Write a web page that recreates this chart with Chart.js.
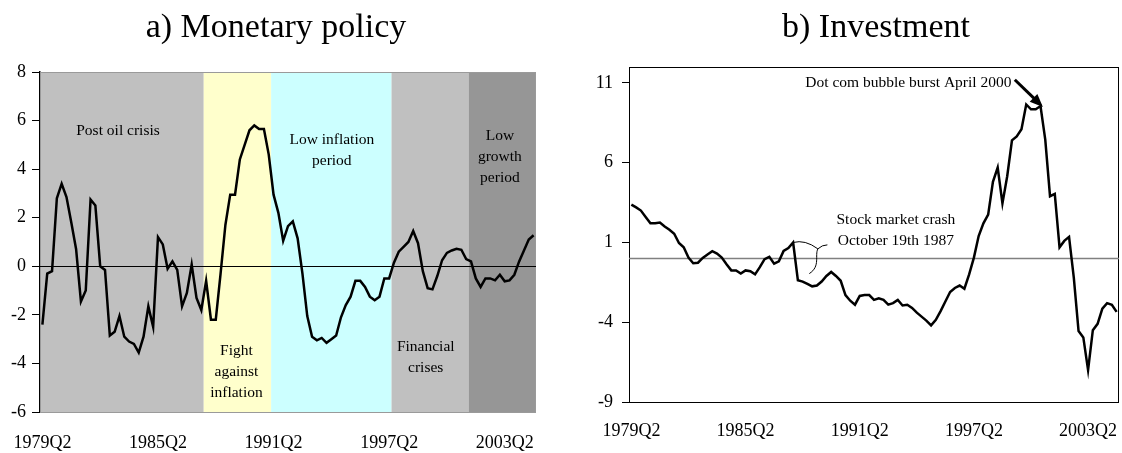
<!DOCTYPE html>
<html>
<head>
<meta charset="utf-8">
<script src="https://cdn.jsdelivr.net/npm/chart.js@4.4.1/dist/chart.umd.min.js"></script>
<style>
  body { margin: 0; background: #fff; width: 1122px; height: 453px; position: relative; overflow: hidden; }
  .panel { position: absolute; top: 0; width: 561px; height: 453px; }
  .title { position: absolute; top: 6px; width: 400px; text-align: center; z-index: 2;
           font: 34px "Liberation Serif", serif; line-height: 40px; color: #000; }
</style>
</head>
<body>
<div class="title" style="left:76px">a) Monetary policy</div>
<div class="title" style="left:676px">b) Investment</div>
<div class="panel" style="left:0"><canvas id="grafikA"></canvas></div>
<div class="panel" style="left:561px"><canvas id="grafikB"></canvas></div>
<script>
// kuartal 1979Q2 .. 2004Q4
const quarters = [];
for (let y = 1979, q = 2; quarters.length < 103; q++) {
    if (q > 4) { q = 1; y++; }
    quarters.push(y + "Q" + q);
}
const tickLabels = ["1979Q2", "1985Q2", "1991Q2", "1997Q2", "2003Q2"];

const monetary = [
    -2.4, -0.3, -0.2, 2.8, 3.4, 2.85, 1.8, 0.7, -1.45, -1.0,
    2.75, 2.5, 0.0, -0.15, -2.85, -2.7, -2.05, -2.9, -3.1, -3.2,
    -3.55, -2.9, -1.65, -2.5, 1.2, 0.9, -0.1, 0.2, -0.15, -1.65,
    -1.1, 0.07, -1.3, -1.8, -0.6, -2.2, -2.2, -0.3, 1.7, 2.95,
    2.95, 4.4, 5.0, 5.6, 5.8, 5.65, 5.65, 4.6, 2.95, 2.2,
    1.05, 1.65, 1.85, 1.15, -0.3, -2.05, -2.9, -3.05, -2.95, -3.15,
    -3.0, -2.85, -2.1, -1.6, -1.25, -0.6, -0.6, -0.85, -1.25, -1.4,
    -1.25, -0.5, -0.5, 0.15, 0.6, 0.8, 1.0, 1.45, 0.95, -0.2,
    -0.9, -0.95, -0.4, 0.25, 0.55, 0.65, 0.72, 0.68, 0.3, 0.2,
    -0.5, -0.85, -0.5, -0.5, -0.58, -0.35, -0.62, -0.58, -0.35, 0.2,
    0.65, 1.1, 1.28
];

const investment = [
    3.37, 3.2, 3.0, 2.6, 2.2, 2.2, 2.25, 2.0, 1.8, 1.55,
    0.97, 0.7, 0.05, -0.3, -0.27, 0.03, 0.25, 0.45, 0.3, 0.05,
    -0.37, -0.75, -0.75, -0.95, -0.75, -0.8, -1.0, -0.55, -0.05, 0.1,
    -0.33, -0.18, 0.47, 0.65, 1.0, -1.37, -1.45, -1.6, -1.75, -1.7,
    -1.45, -1.1, -0.85, -1.1, -1.4, -2.3, -2.65, -2.9, -2.35, -2.3,
    -2.3, -2.6, -2.5, -2.6, -2.9, -2.8, -2.6, -2.95, -2.9, -3.1,
    -3.4, -3.65, -3.9, -4.2, -3.85, -3.3, -2.7, -2.1, -1.85, -1.7,
    -1.9, -1.0, 0.05, 1.4, 2.2, 2.75, 4.8, 5.7, 3.45, 5.15,
    7.4, 7.65, 8.1, 9.65, 9.35, 9.35, 9.55, 7.45, 3.9, 4.05,
    0.7, 1.1, 1.35, -1.2, -4.55, -4.95, -7.0, -4.5, -4.1, -3.15,
    -2.8, -2.9, -3.35
];
const investTicks = [-9, -4, 1, 6, 11];

// periode kebijakan moneter
const periodStarts = ["1979Q2", "1987Q4", "1991Q2", "1997Q3", "2001Q3"];
const periodNames = [["Post oil crisis"], ["Fight", "against", "inflation"], ["Low inflation", "period"], ["Financial", "crises"], ["Low", "growth", "period"]];
const periodColors = ["#c0c0c0", "#ffffcc", "#ccffff", "#c0c0c0", "#969696"];
// posisi label periode (kategori, nilai)
const periodLabelPos = [[15.7, 5.57], [40.3, -3.49], [60.1, 5.2], [79.6, -3.32], [95.0, 5.37]];

Chart.defaults.font.family = '"Liberation Serif", serif';
Chart.defaults.font.size = 18;
Chart.defaults.color = "#000";
Chart.defaults.animation = false;

const FONT_NOTE = '15.5px "Liberation Serif", serif';

// latar periode
const shadePlugin = {
    id: "shade",
    beforeDraw(chart, args, o) {
        if (!o.starts) return;
        const { ctx, chartArea: a, scales: { x } } = chart;
        const half = (x.getPixelForValue(1) - x.getPixelForValue(0)) / 2;
        ctx.save();
        o.starts.forEach((s, k) => {
            const i0 = quarters.indexOf(s);
            const i1 = k + 1 < o.starts.length ? quarters.indexOf(o.starts[k + 1]) : quarters.length;
            const x0 = x.getPixelForValue(i0) - half, x1 = x.getPixelForValue(i1 - 1) + half;
            ctx.fillStyle = o.colors[k];
            ctx.fillRect(x0, a.top, x1 - x0, a.bottom - a.top);
        });
        ctx.restore();
    }
};

// garis nol + bingkai
const framePlugin = {
    id: "frame",
    beforeDatasetsDraw(chart, args, o) {
        const { ctx, chartArea: a, scales: { y } } = chart;
        ctx.save();
        if (o.border) {
            ctx.strokeStyle = o.border; ctx.lineWidth = 1;
            ctx.strokeRect(a.left + .5, a.top + .5, a.right - a.left - 1, a.bottom - a.top);
        }
        const y0 = Math.round(y.getPixelForValue(0)) + .5;
        ctx.strokeStyle = o.zeroColor; ctx.lineWidth = o.zeroWidth;
        ctx.beginPath(); ctx.moveTo(a.left, y0); ctx.lineTo(a.right, y0); ctx.stroke();
        ctx.restore();
    }
};

// teks dan panah keterangan
const notePlugin = {
    id: "notes",
    afterDatasetsDraw(chart, args, o) {
        const { ctx, scales: { x, y } } = chart;
        const P = (c, v) => [x.getPixelForValue(c), y.getPixelForValue(v)];
        ctx.save();
        ctx.font = FONT_NOTE; ctx.fillStyle = "#000"; ctx.textBaseline = "middle";
        (o.texts || []).forEach(t => {
            const [px, py] = P(t.at[0], t.at[1]);
            ctx.textAlign = t.align || "center";
            t.lines.forEach((ln, k) => ctx.fillText(ln, px, py + k * 21));
        });
        if (o.arrow) {
            const [x0, y0] = P(...o.arrow[0]), [x1, y1] = P(...o.arrow[1]);
            const ang = Math.atan2(y1 - y0, x1 - x0);
            ctx.strokeStyle = "#000"; ctx.lineWidth = 3;
            ctx.beginPath(); ctx.moveTo(x0, y0);
            ctx.lineTo(x1 - 9 * Math.cos(ang), y1 - 9 * Math.sin(ang)); ctx.stroke();
            ctx.beginPath(); ctx.moveTo(x1, y1);
            ctx.lineTo(x1 - 13 * Math.cos(ang) + 5.5 * Math.sin(ang), y1 - 13 * Math.sin(ang) - 5.5 * Math.cos(ang));
            ctx.lineTo(x1 - 13 * Math.cos(ang) - 5.5 * Math.sin(ang), y1 - 13 * Math.sin(ang) + 5.5 * Math.cos(ang));
            ctx.closePath(); ctx.fill();
        }
        if (o.curl) {
            const [p0, c1, p1, c2, p2, d1, d2, p3] = o.curl.map(q => P(q[0], q[1]));
            ctx.strokeStyle = "#000"; ctx.lineWidth = 1;
            ctx.beginPath(); ctx.moveTo(...p0); ctx.quadraticCurveTo(...c1, ...p1);
            ctx.quadraticCurveTo(...c2, ...p2); ctx.stroke();
            ctx.beginPath(); ctx.moveTo(...p1); ctx.bezierCurveTo(...d1, ...d2, ...p3); ctx.stroke();
        }
        ctx.restore();
    }
};

const xAxis = (pad, h) => ({
    type: "category", offset: true,
    grid: { display: false },
    border: { display: false },
    ticks: {
        autoSkip: false, maxRotation: 0, padding: pad,
        callback: (v, i) => tickLabels.includes(quarters[i]) ? quarters[i] : null
    },
    afterFit: s => { s.height = h; s.paddingLeft = 0; s.paddingRight = 0; }
});

// a) Monetary policy
new Chart(grafikA, {
    type: "line",
    data: { labels: quarters, datasets: [{ data: monetary, borderColor: "#000", borderWidth: 2.5, pointRadius: 0, tension: 0 }] },
    options: {
        responsive: true, maintainAspectRatio: false,
        layout: { padding: { top: 72, right: 25, left: 0, bottom: 0 } },
        plugins: {
            legend: { display: false }, tooltip: { enabled: false },
            shade: { starts: periodStarts, colors: periodColors },
            frame: { border: "#9a9a9a", zeroColor: "#000", zeroWidth: 1 },
            notes: { texts: periodNames.map((n, k) => ({ lines: n, at: periodLabelPos[k] })) }
        },
        scales: {
            x: xAxis(12, 41),
            y: {
                min: -6, max: 8,
                ticks: { stepSize: 2, padding: 6 },
                grid: { drawOnChartArea: false, tickLength: 8, tickColor: "#000" },
                border: { display: true, color: "#000", width: 1.5 },
                afterFit: s => { s.width = 40; }
            }
        }
    },
    plugins: [shadePlugin, framePlugin, notePlugin]
});

// b) Investment
new Chart(grafikB, {
    type: "line",
    data: { labels: quarters, datasets: [{ data: investment, borderColor: "#000", borderWidth: 2.5, pointRadius: 0, tension: 0 }] },
    options: {
        responsive: true, maintainAspectRatio: false,
        layout: { padding: { top: 67, right: 3, left: 0, bottom: 0 } },
        plugins: {
            legend: { display: false }, tooltip: { enabled: false },
            frame: { border: "#000", zeroColor: "#808080", zeroWidth: 1.5 },
            notes: {
                texts: [
                    { lines: ["Dot com bubble burst April 2000"], at: [79.9, 10.98], align: "right" },
                    { lines: ["Stock market crash", "October 19th 1987"], at: [55.6, 2.39] }
                ],
                arrow: [[80.6, 11.2], [86.5, 9.5]],
                curl: [[34, 1.0], [36.5, 1.2], [39.2, 0.6], [40.1, 0.85], [41.2, 0.85],
                       [38.5, 0.2], [39.8, -0.5], [37.4, -0.95]]
            }
        },
        scales: {
            x: xAxis(10, 51),
            y: {
                min: -9, max: 12,
                afterBuildTicks: s => { s.ticks = investTicks.map(v => ({ value: v })); },
                ticks: { padding: 9 },
                grid: { drawOnChartArea: false, tickLength: 7, tickColor: "#000" },
                border: { display: true, color: "#000", width: 1 },
                afterFit: s => { s.width = 68; }
            }
        }
    },
    plugins: [framePlugin, notePlugin]
});
</script>
</body>
</html>
